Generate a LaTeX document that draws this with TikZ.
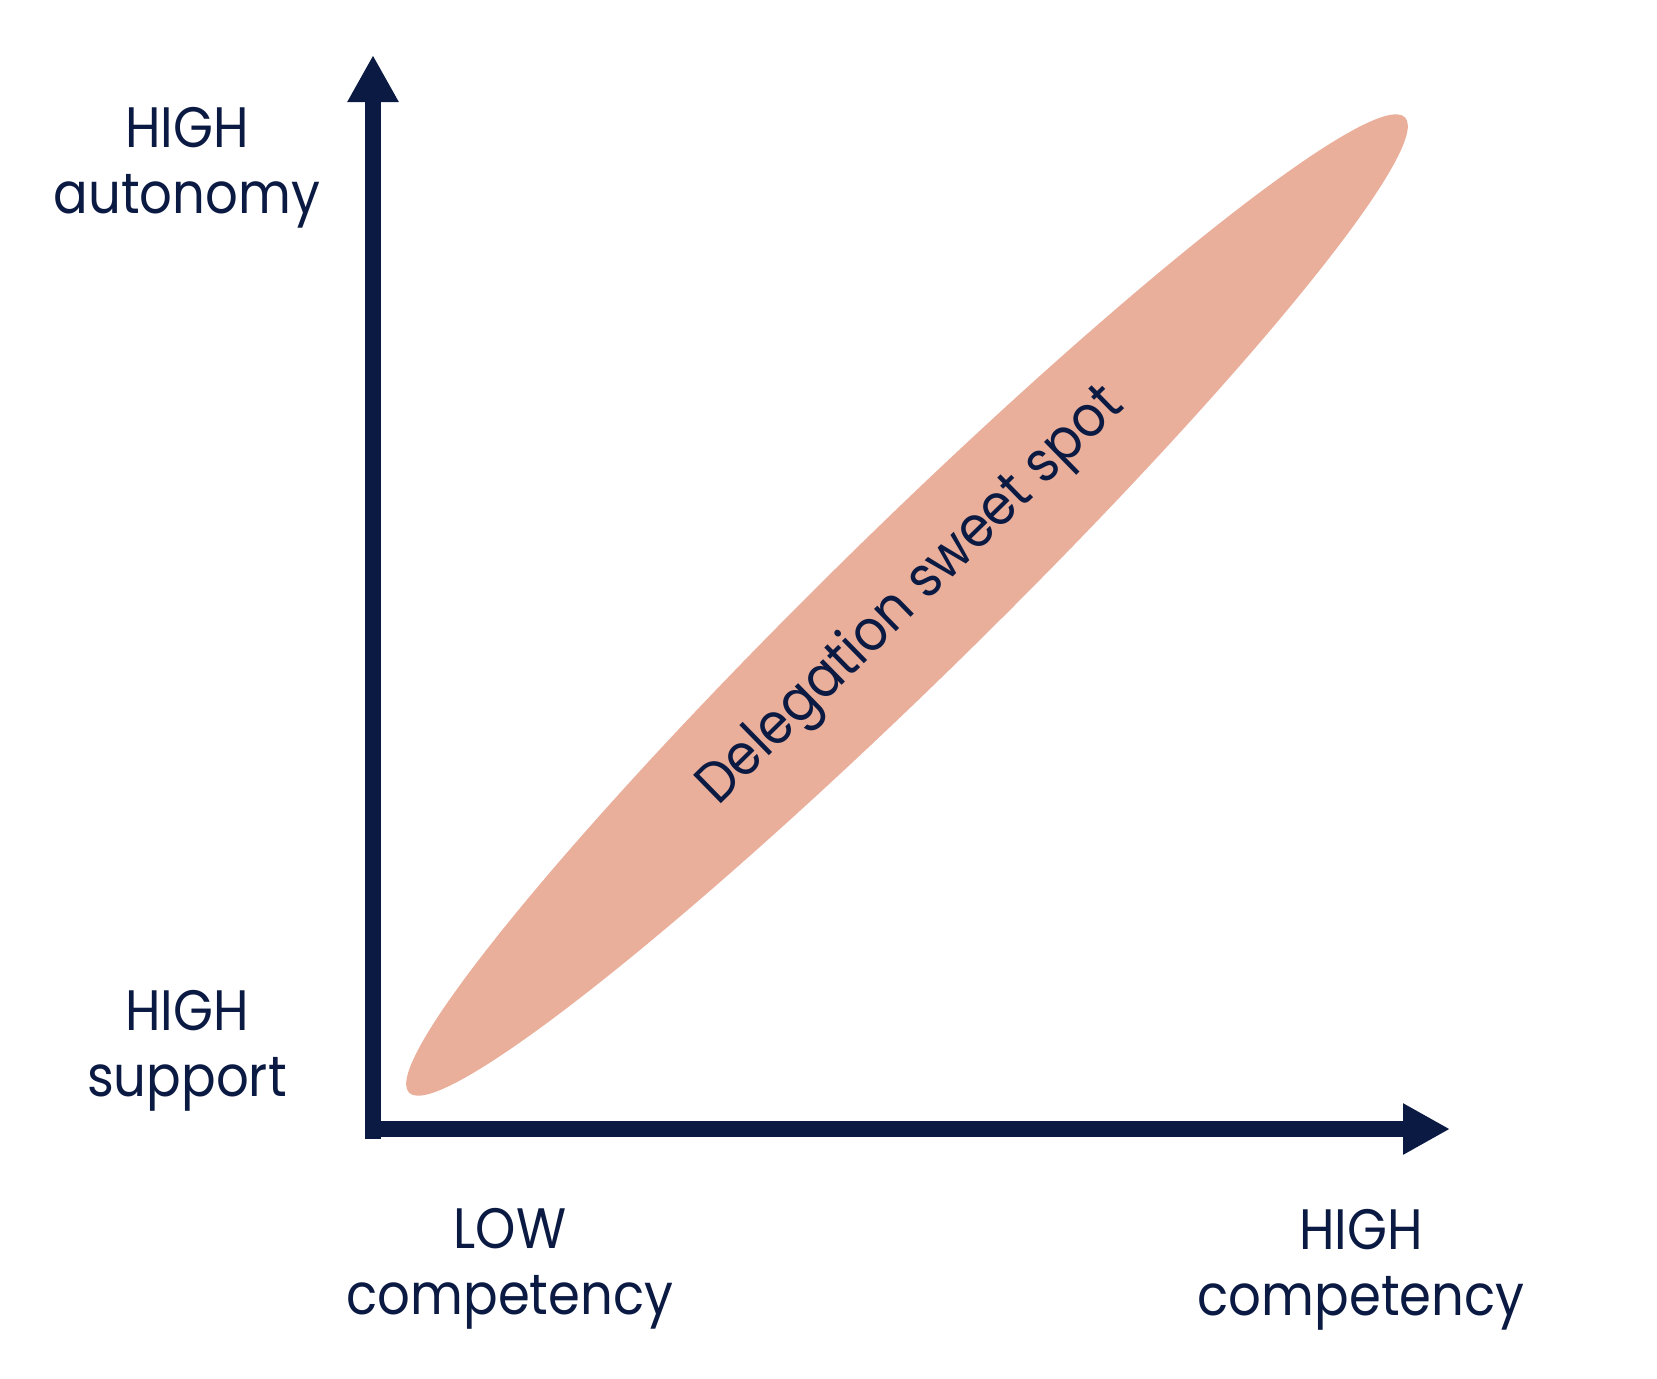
\documentclass[tikz,border=0pt]{standalone}
\usepackage{fontspec}
\setmainfont[FakeStretch=0.9]{Poppins}
\usetikzlibrary{arrows.meta}
\definecolor{navy}{HTML}{0B1A42}
\definecolor{salmon}{HTML}{E9AF9B}
\begin{document}
\begin{tikzpicture}[x=0.5pt,y=-0.5pt,
    axis/.style={draw=navy,line width=8.25pt,-{Triangle[length=23.5pt,width=24pt]}},
    lbl/.style={text=navy,align=center,inner sep=0pt,anchor=north,font=\fontsize{28.5}{33}\selectfont}]
    \useasboundingbox (0,0) rectangle (1657,1378);
    % sweet spot band
    \fill[salmon,rotate around={44.4:(907,605)}] (907,605) ellipse [x radius=697, y radius=76];
    \node[text=navy,rotate=44.4,inner sep=0pt,font=\fontsize{28.5}{33}\selectfont] (spot) at (912,597) {Delegation sweet spot};
    % axes
    \coordinate (ybot) at (373,1139);
    \coordinate (ytip) at (373,55);
    \coordinate (xleft) at (365,1129);
    \coordinate (xtip) at (1450,1129);
    \draw[axis] (ybot) -- (ytip);
    \draw[axis] (xleft) -- (xtip);
    % labels
    \node[lbl] (autonomy) at (187,107) {HIGH\\autonomy};
    \node[lbl] (support) at (187,990) {HIGH\\support};
    \node[lbl] (lowcomp) at (510,1208) {LOW\\competency};
    \node[lbl] (highcomp) at (1361,1209) {HIGH\\competency};
\end{tikzpicture}
\end{document}
